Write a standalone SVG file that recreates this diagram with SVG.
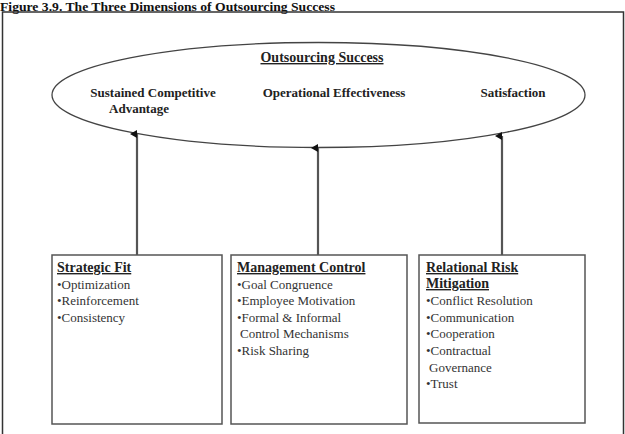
<svg xmlns="http://www.w3.org/2000/svg" width="625" height="434" viewBox="0 0 625 434">
<defs>
<style>
text{font-family:"Liberation Serif","Times New Roman",serif;fill:#222;}
.title{font-size:12.5px;font-weight:bold;fill:#111;}
.head{font-size:14px;font-weight:bold;text-decoration:underline;}
.lab{font-size:13px;font-weight:bold;}
.item{font-size:13px;fill:#333;}
.box{fill:#fff;stroke:#555;stroke-width:1.5;}
.conn{stroke:#555;stroke-width:2.2;fill:none;}
</style>
<marker id="ah" markerWidth="8" markerHeight="8" refX="4" refY="7" orient="auto-start-reverse" markerUnits="userSpaceOnUse" viewBox="0 0 8 8">
<path d="M0,7 L4,0 L8,7 Z" fill="#111"/>
</marker>
</defs>
<rect width="625" height="434" fill="#fff"/>
<text class="title" x="0" y="11" textLength="335" lengthAdjust="spacingAndGlyphs">Figure 3.9. The Three Dimensions of Outsourcing Success</text>
<path d="M2.5,440 V12 H623.5 V440" fill="none" stroke="#333" stroke-width="1.5"/>
<g id="outsourcing-success">
<ellipse cx="318.5" cy="95" rx="266.5" ry="52.5" fill="none" stroke="#444" stroke-width="1.3"/>
<text class="head" x="322" y="62" text-anchor="middle">Outsourcing Success</text>
<text class="lab" x="153" y="97" text-anchor="middle">Sustained Competitive</text>
<text class="lab" x="139" y="113" text-anchor="middle">Advantage</text>
<text class="lab" x="334" y="97" text-anchor="middle">Operational Effectiveness</text>
<text class="lab" x="513" y="97" text-anchor="middle">Satisfaction</text>
</g>
<g id="connectors">
<line class="conn" x1="137" y1="255" x2="137" y2="134" marker-end="url(#ah)"/>
<line class="conn" x1="318" y1="255" x2="318" y2="148" marker-end="url(#ah)"/>
<line class="conn" x1="502" y1="255" x2="502" y2="136" marker-end="url(#ah)"/>
</g>
<g id="strategic-fit">
<rect class="box" x="52" y="255" width="170" height="169"/>
<text class="head" x="57" y="272">Strategic Fit</text>
<text class="item" x="57" y="289">•Optimization</text>
<text class="item" x="57" y="305">•Reinforcement</text>
<text class="item" x="57" y="322">•Consistency</text>
</g>
<g id="management-control">
<rect class="box" x="231" y="255" width="176" height="169"/>
<text class="head" x="237" y="272">Management Control</text>
<text class="item" x="237" y="289">•Goal Congruence</text>
<text class="item" x="237" y="305">•Employee Motivation</text>
<text class="item" x="237" y="322">•Formal &amp; Informal</text>
<text class="item" x="240" y="338">Control Mechanisms</text>
<text class="item" x="237" y="355">•Risk Sharing</text>
</g>
<g id="relational-risk-mitigation">
<rect class="box" x="419" y="255" width="166" height="168"/>
<text class="head" x="426" y="272">Relational Risk</text>
<text class="head" x="426" y="288">Mitigation</text>
<text class="item" x="426" y="305">•Conflict Resolution</text>
<text class="item" x="426" y="322">•Communication</text>
<text class="item" x="426" y="338">•Cooperation</text>
<text class="item" x="426" y="355">•Contractual</text>
<text class="item" x="429" y="372">Governance</text>
<text class="item" x="426" y="388">•Trust</text>
</g>
</svg>
